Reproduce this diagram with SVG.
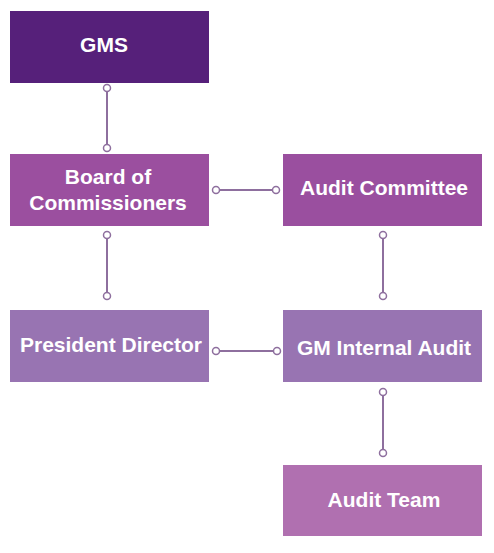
<svg xmlns="http://www.w3.org/2000/svg" width="494" height="553" viewBox="0 0 494 553">
<style>
.t{font-family:"Liberation Sans",Arial,sans-serif;font-weight:bold;font-size:21px;fill:#fff;text-anchor:middle;dominant-baseline:central}
.c line{stroke:#8e6f9e;stroke-width:2}
.c circle{fill:#fff;stroke:#8e6f9e;stroke-width:1.5}
</style>
<rect width="494" height="553" fill="#fff"/>
<g class="c" id="connectors">
<line x1="107" y1="88" x2="107" y2="148"/><circle cx="107" cy="88" r="3.5"/><circle cx="107" cy="148" r="3.5"/>
<line x1="216" y1="190" x2="276" y2="190"/><circle cx="216" cy="190" r="3.5"/><circle cx="276" cy="190" r="3.5"/>
<line x1="107" y1="235" x2="107" y2="296"/><circle cx="107" cy="235" r="3.5"/><circle cx="107" cy="296" r="3.5"/>
<line x1="383" y1="235" x2="383" y2="296"/><circle cx="383" cy="235" r="3.5"/><circle cx="383" cy="296" r="3.5"/>
<line x1="216" y1="351" x2="277" y2="351"/><circle cx="216" cy="351" r="3.5"/><circle cx="277" cy="351" r="3.5"/>
<line x1="383" y1="392" x2="383" y2="453"/><circle cx="383" cy="392" r="3.5"/><circle cx="383" cy="453" r="3.5"/>
</g>
<g id="gms"><rect x="10" y="11" width="199" height="72" fill="#56207a"/><text class="t" x="104" y="44">GMS</text></g>
<g id="board"><rect x="10" y="154" width="199" height="72" fill="#9b4f9f"/><text class="t" x="108" y="176">Board of</text><text class="t" x="108" y="202">Commissioners</text></g>
<g id="audit-committee"><rect x="283" y="154" width="199" height="72" fill="#9a4f9f"/><text class="t" x="384" y="187">Audit Committee</text></g>
<g id="president"><rect x="10" y="310" width="199" height="72" fill="#9874b2"/><text class="t" x="111" y="344">President Director</text></g>
<g id="gm-internal-audit"><rect x="283" y="310" width="199" height="72" fill="#9874b2"/><text class="t" x="384" y="347">GM Internal Audit</text></g>
<g id="audit-team"><rect x="283" y="465" width="199" height="71" fill="#b070b0"/><text class="t" x="384" y="499">Audit Team</text></g>
</svg>
